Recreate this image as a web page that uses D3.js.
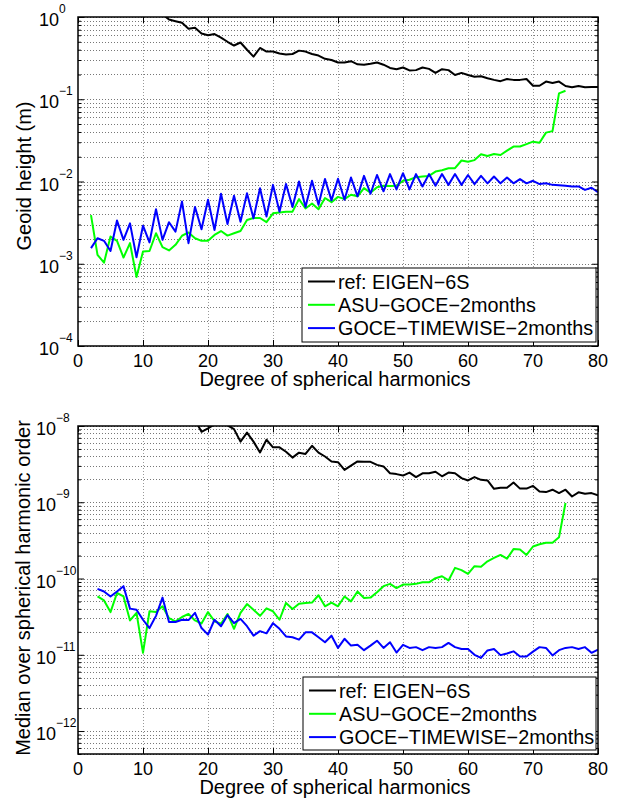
<!DOCTYPE html>
<html>
<head>
<meta charset="utf-8">
<script src="https://cdn.jsdelivr.net/npm/d3@7"></script>
<style>
  body { margin: 0; background: #fff; }
  text { font-family: "Liberation Sans", Arial, Helvetica, sans-serif; fill: #000; }
</style>
</head>
<body>
<svg id="chart" width="628" height="798"></svg>
<script>
// ---- data ----
// top panel: geoid height (m) per degree
const topRefDeg = d3.range(2, 81);
const topRef = [9.8, 6.1, 4.3, 3.6, 2.9, 2.3, 1.9, 1.7, 1.5, 1.35, 1.2, 1.08,
  0.93, 0.89, 0.85, 0.72, 0.74, 0.63, 0.60, 0.62, 0.56, 0.50, 0.45, 0.49, 0.40, 0.33, 0.42, 0.38, 0.38,
  0.36, 0.35, 0.355, 0.39, 0.38, 0.355, 0.34, 0.31, 0.30, 0.28, 0.28, 0.29, 0.266, 0.263, 0.27, 0.28,
  0.263, 0.24, 0.232, 0.243, 0.224, 0.226, 0.243, 0.234, 0.209, 0.232, 0.226, 0.197, 0.209, 0.197,
  0.188, 0.19, 0.18, 0.172, 0.166, 0.176, 0.172, 0.172, 0.176, 0.146, 0.146, 0.164, 0.158, 0.164,
  0.145, 0.14, 0.145, 0.14, 0.141, 0.141];
const topAsuDeg = d3.range(2, 76);
const topAsu = [3.9e-3, 1.28e-3, 1.03e-3, 2.14e-3, 1.9e-3, 1.19e-3, 1.78e-3, 6.9e-4, 1.41e-3, 1.43e-3,
  2.35e-3, 1.59e-3, 1.45e-3, 1.70e-3, 2.19e-3, 2.4e-3, 2.04e-3, 1.9e-3, 1.9e-3, 2.24e-3, 2.5e-3,
  2.2e-3, 2.35e-3, 2.5e-3, 3.4e-3, 3.6e-3, 3.6e-3, 3.2e-3, 4.1e-3, 4.2e-3, 4.3e-3, 4.3e-3, 6.1e-3,
  4.7e-3, 5.4e-3, 4.6e-3, 6.3e-3, 5.6e-3, 6.5e-3, 6.1e-3, 6.9e-3, 6.6e-3, 8.3e-3, 7.3e-3, 8.5e-3,
  8.9e-3, 8.8e-3, 8.9e-3, 1.02e-2, 1.05e-2, 1.13e-2, 1.15e-2, 1.17e-2, 1.32e-2, 1.37e-2, 1.45e-2,
  1.45e-2, 1.8e-2, 1.74e-2, 1.82e-2, 2.14e-2, 2.04e-2, 2.16e-2, 2.1e-2, 2.37e-2, 2.66e-2, 2.66e-2,
  2.85e-2, 3.05e-2, 2.96e-2, 3.93e-2, 4.1e-2, 0.118, 0.127];
const topTwDeg = d3.range(2, 81);
const topTw = [1.55e-3, 2.04e-3, 1.9e-3, 1.43e-3, 3.35e-3, 1.95e-3, 3.1e-3, 1.2e-3, 2.9e-3, 1.82e-3,
  4.6e-3, 1.95e-3, 3.2e-3, 2.46e-3, 5.7e-3, 1.78e-3, 4.9e-3, 2.63e-3, 6.0e-3, 2.57e-3, 7.1e-3,
  3.05e-3, 6.7e-3, 3.24e-3, 7.2e-3, 3.56e-3, 8.3e-3, 3.75e-3, 9.1e-3, 4.3e-3, 9.3e-3, 4.9e-3,
  1.0e-2, 4.9e-3, 1.02e-2, 5.2e-3, 1.07e-2, 5.9e-3, 1.08e-2, 6.0e-3, 1.12e-2, 6.6e-3, 1.17e-2,
  7.1e-3, 1.2e-2, 7.6e-3, 1.23e-2, 8.0e-3, 1.26e-2, 8.0e-3, 1.23e-2, 8.7e-3, 1.23e-2, 8.9e-3,
  1.23e-2, 9.1e-3, 1.23e-2, 9.1e-3, 1.2e-2, 9.3e-3, 1.17e-2, 9.5e-3, 1.15e-2, 9.5e-3, 1.12e-2,
  9.5e-3, 1.07e-2, 9.5e-3, 1.02e-2, 9.3e-3, 9.5e-3, 9.1e-3, 9.0e-3, 8.9e-3, 8.7e-3, 8.7e-3,
  7.9e-3, 8.4e-3, 7.4e-3];

// bottom panel: median over spherical harmonic order
const botRefDeg = d3.range(2, 81);
const botRef = [9.5e-8, 6.8e-8, 5.1e-8, 4.2e-8, 3.6e-8, 3.0e-8, 2.6e-8, 2.3e-8, 2.0e-8, 1.8e-8,
  1.6e-8, 1.5e-8, 1.4e-8, 1.3e-8, 1.2e-8, 1.15e-8, 1.2e-8, 8.4e-9, 9.3e-9, 1.05e-8, 1.1e-8, 1.02e-8,
  9.1e-9, 6.24e-9, 8.2e-9, 6.24e-9, 4.5e-9, 6.6e-9, 5.25e-9, 5.25e-9, 4.6e-9, 3.85e-9, 4.47e-9,
  4.3e-9, 5.5e-9, 4.47e-9, 3.98e-9, 3.43e-9, 3.35e-9, 2.66e-9, 3.02e-9, 3.43e-9, 3.39e-9, 3.39e-9,
  3.09e-9, 2.95e-9, 2.4e-9, 2.34e-9, 2.24e-9, 2.45e-9, 2.14e-9, 2.4e-9, 2.4e-9, 2.51e-9, 2.19e-9,
  2.45e-9, 2.4e-9, 2.07e-9, 1.93e-9, 2.14e-9, 1.97e-9, 1.93e-9, 1.5e-9, 1.55e-9, 1.55e-9, 1.82e-9,
  1.51e-9, 1.51e-9, 1.64e-9, 1.38e-9, 1.36e-9, 1.46e-9, 1.32e-9, 1.46e-9, 1.19e-9, 1.35e-9,
  1.29e-9, 1.32e-9, 1.23e-9];
const botAsuDeg = d3.range(3, 76);
const botAsu = [5.83e-11, 5.16e-11, 3.63e-11, 6.46e-11, 5.83e-11, 2.82e-11, 3.55e-11, 1.06e-11,
  3.72e-11, 3.63e-11, 4.32e-11, 3.02e-11, 2.75e-11, 3.13e-11, 3.43e-11, 2.82e-11, 2.57e-11,
  3.63e-11, 2.75e-11, 2.54e-11, 3.43e-11, 2.19e-11, 3.55e-11, 4.62e-11, 3.89e-11, 3.24e-11,
  4.07e-11, 3.72e-11, 2.88e-11, 4.79e-11, 3.98e-11, 4.68e-11, 4.79e-11, 4.84e-11, 6.03e-11,
  4.32e-11, 4.84e-11, 4.32e-11, 5.82e-11, 5.01e-11, 6.76e-11, 5.56e-11, 5.62e-11, 6.61e-11,
  7.94e-11, 8.51e-11, 7.5e-11, 8.32e-11, 8.32e-11, 8.51e-11, 8.91e-11, 8.91e-11, 1.01e-10,
  1.07e-10, 9.44e-11, 1.38e-10, 1.29e-10, 1.15e-10, 1.45e-10, 1.43e-10, 1.68e-10, 1.86e-10,
  2.04e-10, 1.82e-10, 2.43e-10, 2.40e-10, 2.04e-10, 2.63e-10, 2.82e-10, 2.95e-10, 2.95e-10,
  3.47e-10, 9.77e-10];
const botTwDeg = d3.range(3, 81);
const botTw = [7.33e-11, 6.76e-11, 5.82e-11, 6.76e-11, 7.94e-11, 4.03e-11, 3.89e-11, 2.88e-11,
  2.24e-11, 3.24e-11, 5.62e-11, 2.69e-11, 2.69e-11, 2.88e-11, 2.85e-11, 3.55e-11, 2.24e-11,
  1.84e-11, 2.88e-11, 2.37e-11, 3.31e-11, 2.6e-11, 2.95e-11, 2.37e-11, 1.78e-11, 2.04e-11,
  1.91e-11, 2.6e-11, 2.19e-11, 1.74e-11, 1.70e-11, 1.58e-11, 1.97e-11, 1.97e-11, 1.70e-11,
  1.46e-11, 1.78e-11, 1.23e-11, 1.62e-11, 1.32e-11, 1.35e-11, 1.15e-11, 1.32e-11, 1.53e-11,
  1.23e-11, 1.46e-11, 1.07e-11, 1.35e-11, 1.23e-11, 1.26e-11, 1.15e-11, 1.26e-11, 1.23e-11,
  1.26e-11, 1.43e-11, 1.26e-11, 1.19e-11, 1.19e-11, 1.0e-11, 9.1e-12, 1.14e-11, 1.19e-11,
  9.9e-12, 1.04e-11, 1.11e-11, 9.5e-12, 9.5e-12, 1.10e-11, 1.26e-11, 1.23e-11, 9.8e-12,
  1.15e-11, 1.23e-11, 1.26e-11, 1.19e-11, 1.26e-11, 1.06e-11, 1.17e-11];

const seriesNames = ["ref: EIGEN\u22126S", "ASU\u2212GOCE\u22122months", "GOCE\u2212TIMEWISE\u22122months"];
const seriesColors = ["#000000", "#00ff00", "#0000ff"];
const xTicks = [0, 10, 20, 30, 40, 50, 60, 70, 80];

const svg = d3.select("#chart");

function drawPanel(cfg, series, yTitle, id) {
  const x = d3.scaleLinear().domain([0, 80]).range([cfg.left, cfg.right]);
  const y = d3.scaleLog().domain(cfg.yDomain).range([cfg.bottom, cfg.top]);
  const g = svg.append("g");

  const yAll = y.ticks();
  const isMajor = v => Math.abs(Math.log10(v) - Math.round(Math.log10(v))) < 1e-6;
  const yMajor = yAll.filter(isMajor);

  // dotted grid
  g.append("g").selectAll("line").data(yAll).join("line")
    .attr("x1", cfg.left).attr("x2", cfg.right)
    .attr("y1", d => Math.round(y(d)) + 0.5).attr("y2", d => Math.round(y(d)) + 0.5)
    .attr("stroke", "#777").attr("stroke-dasharray", "1,2");
  g.append("g").selectAll("line").data(xTicks.slice(1, -1)).join("line")
    .attr("x1", d => Math.round(x(d)) + 0.5).attr("x2", d => Math.round(x(d)) + 0.5)
    .attr("y1", cfg.top).attr("y2", cfg.bottom)
    .attr("stroke", "#999").attr("stroke-dasharray", "1,2");

  // series
  const clipId = "clip" + id;
  svg.append("clipPath").attr("id", clipId).append("rect")
    .attr("x", cfg.left).attr("y", cfg.top)
    .attr("width", cfg.right - cfg.left).attr("height", cfg.bottom - cfg.top);
  const line = d3.line().x(d => x(d[0])).y(d => y(d[1]));
  series.forEach((s, i) => {
    g.append("path")
      .attr("clip-path", `url(#${clipId})`)
      .attr("d", line(d3.zip(s.deg, s.val)))
      .attr("fill", "none").attr("stroke", seriesColors[i])
      .attr("stroke-width", 2).attr("stroke-linejoin", "round");
  });

  // axes: ticks pointing inward on all four sides
  const mk = (axis, sel, vals, size) => sel.call(axis.tickValues(vals).tickSize(size).tickFormat(""))
    .call(a => a.select(".domain").remove());
  const yMinor = yAll.filter(v => !isMajor(v));
  mk(d3.axisLeft(y), g.append("g").attr("transform", `translate(${cfg.left},0)`), yMajor, -6);
  mk(d3.axisLeft(y), g.append("g").attr("transform", `translate(${cfg.left},0)`), yMinor, -3);
  mk(d3.axisRight(y), g.append("g").attr("transform", `translate(${cfg.right},0)`), yMajor, -6);
  mk(d3.axisRight(y), g.append("g").attr("transform", `translate(${cfg.right},0)`), yMinor, -3);
  mk(d3.axisBottom(x), g.append("g").attr("transform", `translate(0,${cfg.bottom})`), xTicks, -6);
  mk(d3.axisTop(x), g.append("g").attr("transform", `translate(0,${cfg.top})`), xTicks, -6);
  g.selectAll(".tick line").attr("stroke", "#000");

  g.append("rect")
    .attr("x", cfg.left).attr("y", cfg.top)
    .attr("width", cfg.right - cfg.left).attr("height", cfg.bottom - cfg.top)
    .attr("fill", "none").attr("stroke", "#000").attr("stroke-width", 1.5);

  // tick labels
  g.append("g").selectAll("text").data(xTicks).join("text")
    .attr("x", d => x(d)).attr("y", cfg.bottom + 21)
    .attr("text-anchor", "middle").style("font-size", "18px").text(d => d);
  const yl = g.append("g").selectAll("g").data(yMajor).join("g")
    .attr("transform", d => `translate(${cfg.labelX},${y(d)})`);
  yl.append("text").attr("y", 9).style("font-size", "18px").text("10");
  yl.append("text").attr("x", 20).attr("y", -4).style("font-size", "12px")
    .text(d => { const e = Math.round(Math.log10(d)); return e < 0 ? "\u2212" + (-e) : String(e); });

  // axis titles
  g.append("text")
    .attr("x", (cfg.left + cfg.right) / 2 - 3).attr("y", cfg.bottom + 40)
    .attr("text-anchor", "middle").style("font-size", "20px")
    .text("Degree of spherical harmonics");
  g.append("text")
    .attr("transform", `translate(${cfg.titleX},${cfg.titleY}) rotate(-90)`)
    .attr("text-anchor", "middle").style("font-size", "20px")
    .text(yTitle);

  // legend
  const lg = g.append("g");
  lg.append("rect")
    .attr("x", cfg.legend.x).attr("y", cfg.legend.y)
    .attr("width", cfg.legend.w).attr("height", cfg.legend.h)
    .attr("fill", "#fff").attr("stroke", "#000").attr("stroke-width", 1);
  seriesNames.forEach((name, i) => {
    const cy = cfg.legend.y + 13.5 + i * 23.3;
    lg.append("line")
      .attr("x1", cfg.legend.x + 6).attr("x2", cfg.legend.x + 33)
      .attr("y1", cy).attr("y2", cy)
      .attr("stroke", seriesColors[i]).attr("stroke-width", 2);
    lg.append("text")
      .attr("x", cfg.legend.x + 36).attr("y", cy + 7)
      .style("font-size", "19.8px").text(name);
  });
}

drawPanel(
  { left: 78, right: 598, top: 17, bottom: 346, yDomain: [1e-4, 1], labelX: 39, titleX: 31, titleY: 176,
    legend: { x: 302, y: 268, w: 294, h: 74 } },
  [{ deg: topRefDeg, val: topRef }, { deg: topAsuDeg, val: topAsu }, { deg: topTwDeg, val: topTw }],
  "Geoid height (m)", "top");

drawPanel(
  { left: 78, right: 598, top: 426, bottom: 754, yDomain: [5e-13, 1e-8], labelX: 36, titleX: 30, titleY: 588,
    legend: { x: 303, y: 677, w: 293, h: 73 } },
  [{ deg: botRefDeg, val: botRef }, { deg: botAsuDeg, val: botAsu }, { deg: botTwDeg, val: botTw }],
  "Median over spherical harmonic order", "bot");
</script>
</body>
</html>
